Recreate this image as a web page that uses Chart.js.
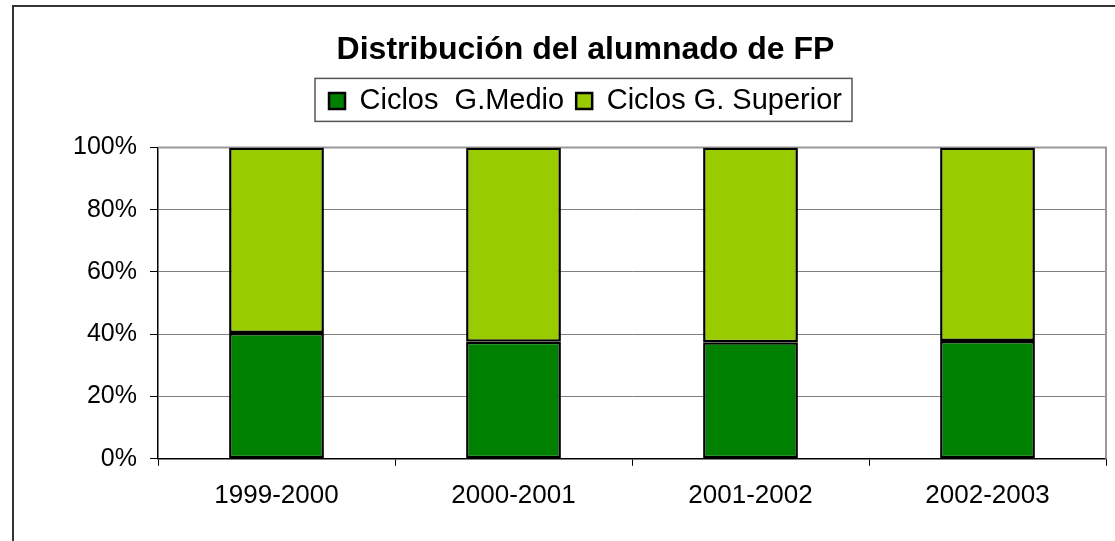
<!DOCTYPE html>
<html>
<head>
<meta charset="utf-8">
<script src="https://cdn.jsdelivr.net/npm/chart.js@4/dist/chart.umd.min.js"></script>
<style>
  html, body { margin: 0; padding: 0; background: #fff; }
  #wrap { width: 1115px; height: 541px; }
</style>
</head>
<body>
<div id="wrap"><canvas id="fpChart" width="1115" height="541"></canvas></div>
<script>
// data (share of students, %)
const categories = ["1999-2000", "2000-2001", "2001-2002", "2002-2003"];
const gradoMedio = [40.4, 37.6, 37.4, 37.8];
const gradoSuperior = [59.6, 62.4, 62.6, 62.2];
const yTickLabels = ["0%", "20%", "40%", "60%", "80%", "100%"];

const FONT = "'Liberation Sans', Arial, sans-serif";

// outer frame, plot frame and the box round the legend
const framePlugin = {
  id: "frames",
  beforeInit(chart) {
    const fit = chart.legend.fit;
    chart.legend.fit = function () {
      fit.bind(chart.legend)();
      this.height += 22;
    };
  },
  beforeDraw(chart) {
    const c = chart.ctx;
    c.save();
    c.strokeStyle = "#333";
    c.lineWidth = 2;
    c.beginPath();
    c.moveTo(13, 545);
    c.lineTo(13, 6);
    c.lineTo(1120, 6);
    c.stroke();
    c.restore();
  },
  beforeDatasetsDraw(chart) {
    const a = chart.chartArea;
    const c = chart.ctx;
    c.save();
    c.strokeStyle = "#999";
    c.lineWidth = 2;
    c.beginPath();
    c.moveTo(a.left, a.top);
    c.lineTo(a.right, a.top);
    c.lineTo(a.right, a.bottom);
    c.stroke();
    c.restore();
  },
  afterDraw(chart) {
    const boxes = chart.legend.legendHitBoxes;
    if (!boxes || !boxes.length) return;
    const left = Math.min(...boxes.map(b => b.left)) - 14;
    const right = Math.max(...boxes.map(b => b.left + b.width)) + 10;
    const top = boxes[0].top - 8;
    const bottom = boxes[0].top + boxes[0].height + 6;
    const c = chart.ctx;
    c.save();
    c.strokeStyle = "#555";
    c.lineWidth = 1.5;
    c.strokeRect(left, top, right - left, bottom - top);
    c.restore();
  }
};

new Chart(document.getElementById("fpChart"), {
  type: "bar",
  data: {
    labels: categories,
    datasets: [
      {
        label: "Ciclos  G.Medio",
        data: gradoMedio,
        backgroundColor: "#008000",
        borderColor: "#000",
        borderWidth: 2.5,
        borderSkipped: false
      },
      {
        label: "Ciclos G. Superior",
        data: gradoSuperior,
        backgroundColor: "#99CC00",
        borderColor: "#000",
        borderWidth: 2.5,
        borderSkipped: false
      }
    ]
  },
  options: {
    responsive: false,
    animation: false,
    datasets: { bar: { categoryPercentage: 1, barPercentage: 0.4 } },
    layout: { padding: { left: 65, right: 9, top: 0, bottom: 16 } },
    plugins: {
      tooltip: { enabled: false },
      title: {
        display: true,
        text: "Distribución del alumnado de FP",
        color: "#000",
        font: { family: FONT, size: 32, weight: "bold" },
        padding: { top: 31, bottom: 5 }
      },
      legend: {
        position: "top",
        labels: {
          color: "#000",
          font: { family: FONT, size: 29 },
          boxWidth: 16,
          boxHeight: 16,
          padding: 12
        }
      }
    },
    scales: {
      x: {
        stacked: true,
        grid: { display: true, drawOnChartArea: false, offset: true, color: "#000", tickLength: 7 },
        border: { color: "#000", width: 1.5 },
        ticks: { color: "#000", font: { family: FONT, size: 26 }, padding: 14, maxRotation: 0 }
      },
      y: {
        stacked: true,
        min: 0,
        max: 100,
        afterFit(scale) { scale.width = 93; },
        grid: { color: "#808080", lineWidth: 1, tickLength: 8, tickColor: "#000" },
        border: { color: "#000", width: 1.5 },
        ticks: {
          stepSize: 20,
          color: "#000",
          font: { family: FONT, size: 25 },
          padding: 13,
          callback: (v, i) => yTickLabels[i]
        }
      }
    }
  },
  plugins: [framePlugin]
});
</script>
</body>
</html>
